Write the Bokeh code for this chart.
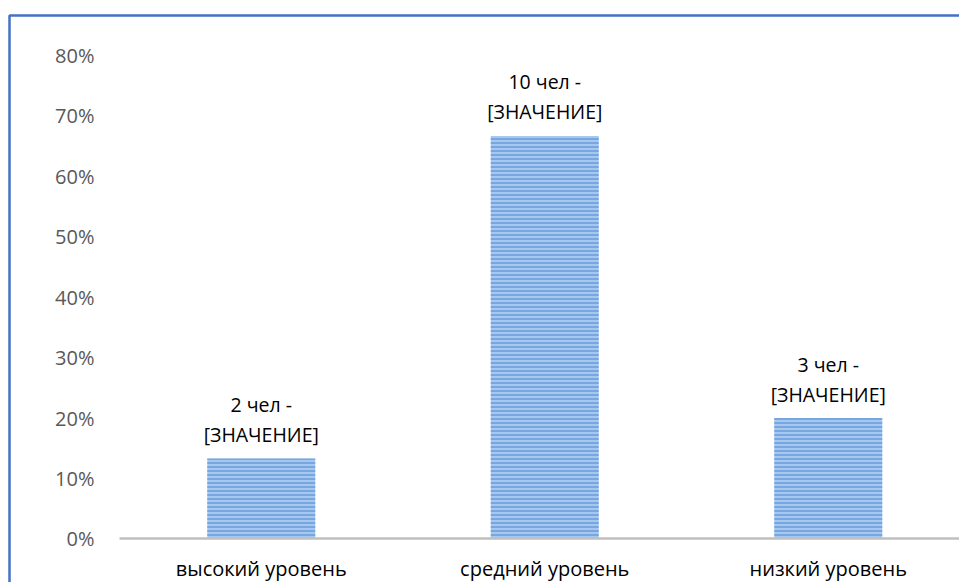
from bokeh.plotting import figure
from bokeh.models import (Range1d, FixedTicker, NumeralTickFormatter,
                          ColumnDataSource, BoxAnnotation)
from bokeh.core.properties import value
from bokeh.embed import file_html
from bokeh.resources import INLINE

# ---- data ----
categories = ["высокий уровень", "средний уровень", "низкий уровень"]
counts = [2, 10, 3]
shares = [0.133, 0.667, 0.20]
label_top = ["2 чел -", "10 чел -", "3 чел -"]
label_bottom = ["[ЗНАЧЕНИЕ]", "[ЗНАЧЕНИЕ]", "[ЗНАЧЕНИЕ]"]
y_ticks = [0.0, 0.1, 0.2, 0.3, 0.4, 0.5, 0.6, 0.7, 0.8]

xs = list(range(len(categories)))
src = ColumnDataSource(dict(x=xs, share=shares, count=counts,
                            top_lbl=label_top, bot_lbl=label_bottom))

FONT = "Open Sans"
X_START, X_END = -0.9198, 2.463   # frame covers the whole canvas
Y_START, Y_END = -0.0720, 0.891

p = figure(width=959, height=582,
           x_range=Range1d(X_START, X_END), y_range=Range1d(Y_START, Y_END),
           output_backend="svg", toolbar_location=None,
           min_border_left=0, min_border_right=0,
           min_border_top=0, min_border_bottom=0)
p.background_fill_color = "white"
p.border_fill_color = "white"
p.outline_line_color = None
p.xgrid.visible = False
p.ygrid.visible = False

# chart-area border (only its top and left edges fall inside the window)
p.add_layout(BoxAnnotation(left=9, right=1200, top=15, bottom=900,
                           left_units="canvas", right_units="canvas",
                           top_units="canvas", bottom_units="canvas",
                           fill_color=None, fill_alpha=0,
                           line_color="#4472C4", line_alpha=1.0,
                           line_width=2.5, level="overlay"))

p.vbar(x="x", top="share", bottom=0, width=0.381, source=src,
       fill_color="#A6C8EF", line_color=None,
       hatch_pattern="horizontal_line", hatch_color="#6298DA",
       hatch_scale=4, hatch_weight=1.4)

p.text(x="x", y="share", text="top_lbl", source=src, y_offset=-54,
       text_align="center", text_baseline="alphabetic",
       text_font=value(FONT), text_font_size="19.5px", text_color="black")
p.text(x="x", y="share", text="bot_lbl", source=src, y_offset=-24,
       text_align="center", text_baseline="alphabetic",
       text_font=value(FONT), text_font_size="19.5px", text_color="black")

# y axis (drawn inside the frame at the plot-area's left edge)
ya = p.yaxis[0]
ya.fixed_location = -0.5
ya.ticker = FixedTicker(ticks=y_ticks)
ya.formatter = NumeralTickFormatter(format="0%")
ya.axis_line_color = None
ya.major_tick_line_color = None
ya.minor_tick_line_color = None
ya.major_tick_out = 0
ya.major_label_standoff = 25
ya.major_label_text_font = FONT
ya.major_label_text_font_size = "20px"
ya.major_label_text_color = "#595959"

# x axis (category axis on the 0 line)
xa = p.xaxis[0]
xa.fixed_location = 0
xa.bounds = (-0.5, X_END)
xa.ticker = FixedTicker(ticks=xs)
xa.major_label_overrides = {i: c for i, c in zip(xs, categories)}
xa.axis_line_color = "#BFBFBF"
xa.axis_line_width = 2.5
xa.major_tick_line_color = None
xa.minor_tick_line_color = None
xa.major_tick_out = 0
xa.major_label_standoff = 16
xa.major_label_text_font = FONT
xa.major_label_text_font_size = "20px"
xa.major_label_text_color = "black"

open("out.html", "w").write(file_html(p, INLINE))
